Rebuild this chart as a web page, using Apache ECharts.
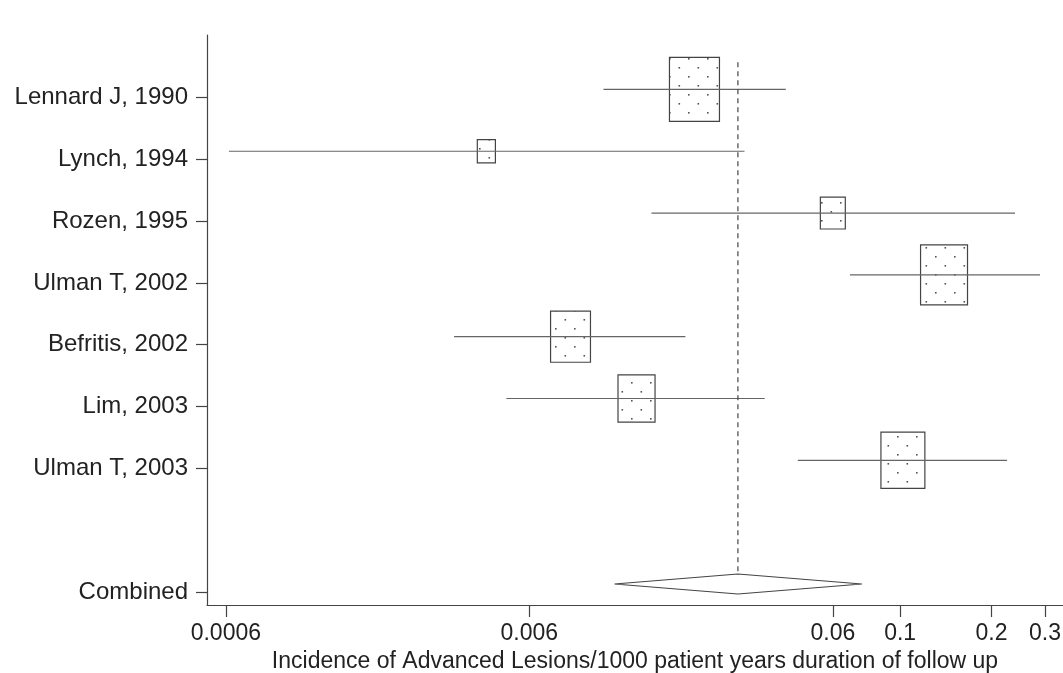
<!DOCTYPE html>
<html><head><meta charset="utf-8">
<script src="https://cdn.jsdelivr.net/npm/echarts@6/dist/echarts.min.js"></script>
<style>html,body{margin:0;padding:0;background:#fff}#c{width:1063px;height:673px}</style>
</head><body><div id="c"></div>
<script>
// ---- data ----
const studies = ['Lennard J, 1990','Lynch, 1994','Rozen, 1995','Ulman T, 2002','Befritis, 2002','Lim, 2003','Ulman T, 2003'];
const estimates = [0.0210, 0.00433, 0.060, 0.1395, 0.0082, 0.01353, 0.1021];
const ciLow = [0.01053, 0.000614, 0.01516, 0.0683, 0.00339, 0.00504, 0.046];
const ciHigh = [0.042, 0.0307, 0.239, 0.289, 0.0196, 0.0358, 0.225];
const weights = [23.7, 3.1, 5.9, 20.9, 15.1, 13.0, 18.3];
const combinedLabel = 'Combined';
const combinedEst = 0.0292;
const combinedLow = 0.01145;
const combinedHigh = 0.0748;
const xTicks = [0.0006, 0.006, 0.06, 0.1, 0.2, 0.3];
const xTickLabels = ['0.0006', '0.006', '0.06', '0.1', '0.2', '0.3'];
const xTitle = 'Incidence of Advanced Lesions/1000 patient years duration of follow up';

// ---- rows ----
const studyRows = studies.map((s, i) => i + 1);
const combinedRow = studies.length + 2;
const rowValues = studyRows.concat([combinedRow]);
const rowNames = {};
studies.forEach((s, i) => { rowNames[studyRows[i]] = s; });
rowNames[combinedRow] = combinedLabel;
// the original draws the row ticks/labels slightly below the marks
const LABEL_SHIFT = 0.13;
const tickValues = rowValues.map(r => r + LABEL_SHIFT);

// stipple pattern
const pc = document.createElement('canvas');
pc.width = 19; pc.height = 18;
const pctx = pc.getContext('2d');
pctx.fillStyle = '#fff'; pctx.fillRect(0, 0, 19, 18);
pctx.fillStyle = '#555';
pctx.fillRect(4, 4, 1.6, 1.6);
pctx.fillRect(13.5, 13, 1.6, 1.6);
const stipple = { image: pc, repeat: 'repeat' };

const FONT = 'Liberation Sans, Arial, Helvetica, sans-serif';
const studyData = studies.map((s, i) => [estimates[i], studyRows[i], ciLow[i], ciHigh[i], weights[i]]);

const chart = echarts.init(document.getElementById('c'), null, { renderer: 'canvas' });
chart.setOption({
  animation: false,
  backgroundColor: '#fff',
  grid: { left: 207, right: 0, top: 35, bottom: 68, containLabel: false, outerBoundsMode: 'none' },
  xAxis: {
    type: 'log', logBase: 10, min: 0.00052, max: 0.344,
    axisLine: { show: true, lineStyle: { color: '#444', width: 1.2 } },
    axisTick: { show: true, inside: false, length: 12, customValues: xTicks, lineStyle: { color: '#444', width: 1.2 } },
    axisLabel: {
      customValues: xTicks, margin: 17, color: '#222', fontSize: 23, fontFamily: FONT,
      formatter: v => { const i = xTicks.findIndex(t => Math.abs(t - v) / t < 1e-6); return i >= 0 ? xTickLabels[i] : ''; }
    },
    splitLine: { show: false }, minorTick: { show: false },
    name: xTitle, nameLocation: 'middle', nameGap: 45,
    nameTextStyle: { color: '#222', fontSize: 23, fontFamily: FONT }
  },
  yAxis: {
    type: 'value', inverse: true, min: 0.12, max: 9.34,
    axisLine: { show: true, lineStyle: { color: '#444', width: 1.2 } },
    axisTick: { show: true, inside: false, length: 11, customValues: tickValues, lineStyle: { color: '#444', width: 1.2 } },
    axisLabel: {
      customValues: tickValues, margin: 19, color: '#222', fontSize: 24, fontFamily: FONT,
      formatter: v => rowNames[Math.round(v - LABEL_SHIFT)] || ''
    },
    splitLine: { show: false }
  },
  series: [
    {
      type: 'custom', clip: false,
      encode: { x: [0, 2, 3], y: 1 },
      data: studyData,
      renderItem: (params, api) => {
        const est = api.value(0), row = api.value(1), lo = api.value(2), hi = api.value(3), w = api.value(4);
        const c = api.coord([est, row]);
        const pl = api.coord([lo, row]);
        const ph = api.coord([hi, row]);
        const bw = 10.27 * Math.sqrt(w), bh = bw * 1.28;
        return {
          type: 'group', children: [
            { type: 'rect', shape: { x: c[0] - bw / 2, y: c[1] - bh / 2, width: bw, height: bh },
              style: { fill: stipple, stroke: '#444', lineWidth: 1.2 } },
            { type: 'line', shape: { x1: pl[0], y1: pl[1], x2: ph[0], y2: ph[1] },
              style: { stroke: '#666', lineWidth: 1.2 } }
          ]
        };
      }
    },
    {
      type: 'custom', clip: false,
      encode: { x: [0, 2, 3], y: 1 },
      data: [[combinedEst, combinedRow, combinedLow, combinedHigh]],
      renderItem: (params, api) => {
        const est = api.value(0), row = api.value(1), lo = api.value(2), hi = api.value(3);
        const c = api.coord([est, row]);
        const pl = api.coord([lo, row]);
        const ph = api.coord([hi, row]);
        const top = api.coord([est, 0.56]);
        const h = 10;
        return {
          type: 'group', children: [
            { type: 'polygon', shape: { points: [[pl[0], pl[1]], [c[0], c[1] - h], [ph[0], ph[1]], [c[0], c[1] + h]] },
              style: { fill: '#fff', stroke: '#444', lineWidth: 1.2 } },
            { type: 'line', shape: { x1: top[0], y1: top[1], x2: c[0], y2: c[1] - h },
              style: { stroke: '#444', lineWidth: 1.2, lineDash: [5, 4] } }
          ]
        };
      }
    }
  ]
});
</script></body></html>
